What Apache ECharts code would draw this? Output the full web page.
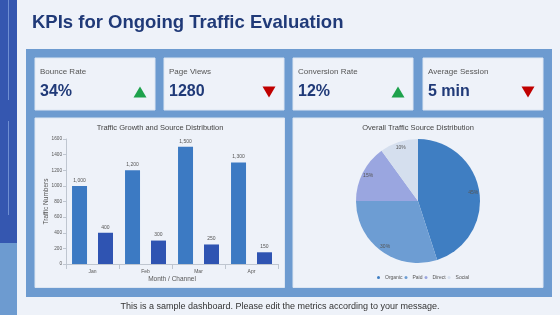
<!DOCTYPE html>
<html><head><meta charset="utf-8">
<script src="https://cdn.jsdelivr.net/npm/echarts@6/dist/echarts.min.js"></script>
<style>html,body{margin:0;padding:0;background:#eef2f9;}#c{width:560px;height:315px;}</style>
</head><body><div id="c"></div>
<script>
// ---- data ----
const pageTitle = 'KPIs for Ongoing Traffic Evaluation';
const footerText = 'This is a sample dashboard. Please edit the metrics according to your message.';
const kpiLabels = ['Bounce Rate', 'Page Views', 'Conversion Rate', 'Average Session'];
const kpiValues = ['34%', '1280', '12%', '5 min'];
const kpiTrends = ['up', 'down', 'up', 'down'];
const months = ['Jan', 'Feb', 'Mar', 'Apr'];
const growthValues = [1000, 1200, 1500, 1300];
const channelValues = [400, 300, 250, 150];
const yTicks = [0, 200, 400, 600, 800, 1000, 1200, 1400, 1600];
const sourceNames = ['Organic', 'Paid', 'Direct', 'Social'];
const sourceValues = [45, 30, 15, 10];

const FONT = '"Liberation Sans", Arial, sans-serif';
const panelFill = '#eef2f9';
const panelStroke = '#dde6f2';
const sourceColors = ['#3f7ec2', '#6d9dd3', '#9aa6e0', '#d5dfee'];

const chart = echarts.init(document.getElementById('c'), null, {renderer: 'canvas'});

const graphics = [
  {type: 'rect', shape: {x: 0, y: 0, width: 17, height: 243}, style: {fill: '#3557b0'}, z: 0},
  {type: 'rect', shape: {x: 0, y: 243, width: 17, height: 72}, style: {fill: '#6d9bd0'}, z: 0},
  {type: 'line', shape: {x1: 8.5, y1: 0, x2: 8.5, y2: 100}, style: {stroke: '#6f8fd2', lineWidth: 1}, z: 1},
  {type: 'line', shape: {x1: 8.5, y1: 121, x2: 8.5, y2: 215}, style: {stroke: '#6f8fd2', lineWidth: 1}, z: 1},
  {type: 'text', x: 32, y: 23, style: {text: pageTitle, font: 'bold 18.5px ' + FONT, fill: '#203a78', textVerticalAlign: 'middle'}, z: 2},
  {type: 'rect', shape: {x: 26, y: 49, width: 526, height: 248}, style: {fill: '#6d9bd0'}, z: 0},
  {type: 'rect', shape: {x: 35, y: 118, width: 249.5, height: 169.5}, style: {fill: panelFill, stroke: panelStroke, lineWidth: 1}, z: 1},
  {type: 'rect', shape: {x: 293, y: 118, width: 250, height: 169.5}, style: {fill: panelFill, stroke: panelStroke, lineWidth: 1}, z: 1},
  {type: 'text', x: 280, y: 307, style: {text: footerText, font: '9px ' + FONT, fill: '#333333', textAlign: 'center', textVerticalAlign: 'middle'}, z: 2},
  {type: 'text', x: 160, y: 128, style: {text: 'Traffic Growth and Source Distribution', font: '7.5px ' + FONT, fill: '#444444', textAlign: 'center', textVerticalAlign: 'middle'}, z: 3},
  {type: 'text', x: 418, y: 128, style: {text: 'Overall Traffic Source Distribution', font: '7.5px ' + FONT, fill: '#444444', textAlign: 'center', textVerticalAlign: 'middle'}, z: 3}
];
const cardX = [35, 164, 293, 423];
kpiLabels.forEach((lab, i) => {
  const x = cardX[i];
  graphics.push({type: 'rect', shape: {x: x, y: 58, width: 120, height: 52}, style: {fill: panelFill, stroke: panelStroke, lineWidth: 1}, z: 1});
  graphics.push({type: 'text', x: x + 5, y: 72, style: {text: lab, font: '8px ' + FONT, fill: '#555555', textVerticalAlign: 'middle'}, z: 2});
  graphics.push({type: 'text', x: x + 5, y: 92, style: {text: kpiValues[i], font: 'bold 16px ' + FONT, fill: '#203a78', textVerticalAlign: 'middle'}, z: 2});
  const cx = x + 105, cy = 92;
  const pts = kpiTrends[i] === 'up'
    ? [[cx - 6.5, cy + 5.5], [cx + 6.5, cy + 5.5], [cx, cy - 5.5]]
    : [[cx - 6.5, cy - 5.5], [cx + 6.5, cy - 5.5], [cx, cy + 5.5]];
  graphics.push({type: 'polygon', shape: {points: pts}, style: {fill: kpiTrends[i] === 'up' ? '#1ea24c' : '#c00000'}, z: 2});
});

const fmt = v => v.toLocaleString('en-US');

chart.setOption({
  animation: false,
  graphic: {z: -10, elements: graphics},
  grid: {left: 66, right: 282, top: 139, bottom: 51, containLabel: false},
  legend: {
    z: 10,
    data: sourceNames.map((n, i) => ({name: n, itemStyle: {color: sourceColors[i]}})),
    left: 372, top: 270, orient: 'horizontal',
    textStyle: {fontSize: 5, color: '#555555', fontFamily: FONT},
    icon: 'circle', itemWidth: 3, itemHeight: 3, itemGap: 2,
    formatter: n => n
  },
  xAxis: {
    z: 10,
    type: 'category', data: months,
    name: 'Month / Channel', nameLocation: 'middle', nameGap: 12,
    nameTextStyle: {fontSize: 6.5, color: '#555555', fontFamily: FONT},
    axisLine: {lineStyle: {color: '#bfc6d0'}},
    axisTick: {show: true, lineStyle: {color: '#bfc6d0'}},
    axisLabel: {fontSize: 5, color: '#555555', fontFamily: FONT, margin: 5}
  },
  yAxis: {
    z: 10,
    type: 'value', min: yTicks[0], max: yTicks[yTicks.length - 1], interval: yTicks[1] - yTicks[0],
    name: 'Traffic Numbers', nameLocation: 'middle', nameGap: 16, nameRotate: 90, nameMoveOverlap: false,
    nameTextStyle: {fontSize: 6.5, color: '#555555', fontFamily: FONT},
    axisLine: {show: true, lineStyle: {color: '#bfc6d0'}},
    axisTick: {show: true, length: 3, lineStyle: {color: '#bfc6d0'}},
    splitLine: {show: false},
    axisLabel: {fontSize: 4.7, color: '#555555', fontFamily: FONT, margin: 4, formatter: v => String(v)}
  },
  series: [
    {
      type: 'bar', name: 'Growth', data: growthValues, barWidth: 15, barGap: '73%', z: 10,
      itemStyle: {color: '#3c7ac3'},
      label: {show: true, position: 'top', fontSize: 5, color: '#555555', fontFamily: FONT, distance: 3, formatter: p => fmt(p.value)}
    },
    {
      type: 'bar', name: 'Channel', data: channelValues, barWidth: 15, z: 10,
      itemStyle: {color: '#2f54b2'},
      label: {show: true, position: 'top', fontSize: 5, color: '#555555', fontFamily: FONT, distance: 3, formatter: p => fmt(p.value)}
    },
    {
      type: 'pie', name: 'Sources', center: [418, 201], radius: [0, 62], z: 10,
      startAngle: 90, clockwise: true,
      data: sourceNames.map((n, i) => ({name: n, value: sourceValues[i], itemStyle: {color: sourceColors[i]}})),
      label: {show: false}, labelLine: {show: false}
    },
    {
      type: 'pie', name: 'SourceLabels', center: [418, 201], radius: [44, 62], z: 11,
      startAngle: 90, clockwise: true, silent: true, legendHoverLink: false,
      data: sourceNames.map((n, i) => ({name: n, value: sourceValues[i], itemStyle: {color: 'rgba(0,0,0,0)'}})),
      label: {show: true, position: 'inside', fontSize: 5, color: '#555555', fontFamily: FONT, formatter: p => p.value + '%'},
      labelLine: {show: false}, emphasis: {disabled: true}
    }
  ]
});
</script></body></html>
